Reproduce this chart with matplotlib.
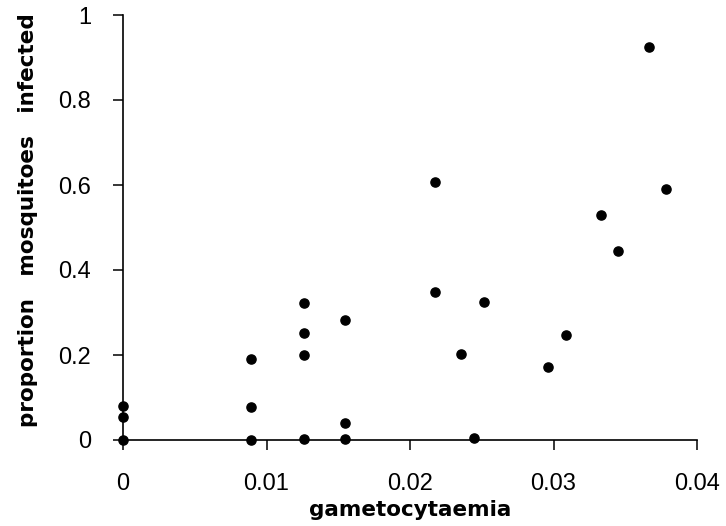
import matplotlib
matplotlib.use("Agg")
import matplotlib.pyplot as plt

# gametocytaemia vs proportion of mosquitoes infected
gametocytaemia = [0.0, 0.0, 0.0,
                  0.0089, 0.0089, 0.0089,
                  0.0126, 0.0126, 0.0126, 0.0126,
                  0.01545, 0.01545, 0.01545,
                  0.02176, 0.02176, 0.02355, 0.02446, 0.02518,
                  0.02962, 0.03089, 0.03331, 0.03452, 0.03668, 0.03782]
prop_infected = [0.0, 0.053, 0.080,
                 0.0, 0.078, 0.191,
                 0.002, 0.200, 0.251, 0.322,
                 0.003, 0.041, 0.282,
                 0.349, 0.606, 0.202, 0.005, 0.325,
                 0.172, 0.246, 0.529, 0.444, 0.924, 0.591]

x_ticks = [0, 0.01, 0.02, 0.03, 0.04]
x_ticklabels = ["0", "0.01", "0.02", "0.03", "0.04"]
y_ticks = [0, 0.2, 0.4, 0.6, 0.8, 1.0]
y_ticklabels = ["0", "0.2", "0.4", "0.6", "0.8", "1"]


def main():
    fig = plt.figure(figsize=(7.26, 5.26), dpi=100)
    ax = fig.add_axes([123 / 726, 86 / 526, 574 / 726, 425 / 526])

    ax.plot(gametocytaemia, prop_infected, "o", color="black", ms=6.6,
            clip_on=False, zorder=3)

    ax.set_xlim(0, 0.04)
    ax.set_ylim(0, 1)
    for side in ("top", "right"):
        ax.spines[side].set_visible(False)
    for side in ("left", "bottom"):
        ax.spines[side].set_linewidth(1.2)

    ax.set_xticks(x_ticks)
    ax.set_xticklabels(x_ticklabels, fontsize=17, family="Liberation Sans")
    ax.set_yticks(y_ticks)
    ax.set_yticklabels(y_ticklabels, fontsize=17, family="Liberation Sans")
    ax.tick_params(axis="x", direction="out", length=7, width=1.1, pad=17)
    ax.tick_params(axis="y", direction="out", length=7, width=1.1, pad=16)

    ax.set_xlabel("gametocytaemia", fontsize=15.5, fontweight="bold",
                  family="DejaVu Sans", va="center")
    ax.xaxis.set_label_coords(0.5, -70 / 425)
    ax.set_ylabel("proportion   mosquitoes   infected", fontsize=15.5,
                  fontweight="bold", family="DejaVu Sans", va="center")
    ax.yaxis.set_label_coords(-95 / 574, 220 / 425)

    fig.savefig("out.png", dpi=100)


if __name__ == "__main__":
    main()
